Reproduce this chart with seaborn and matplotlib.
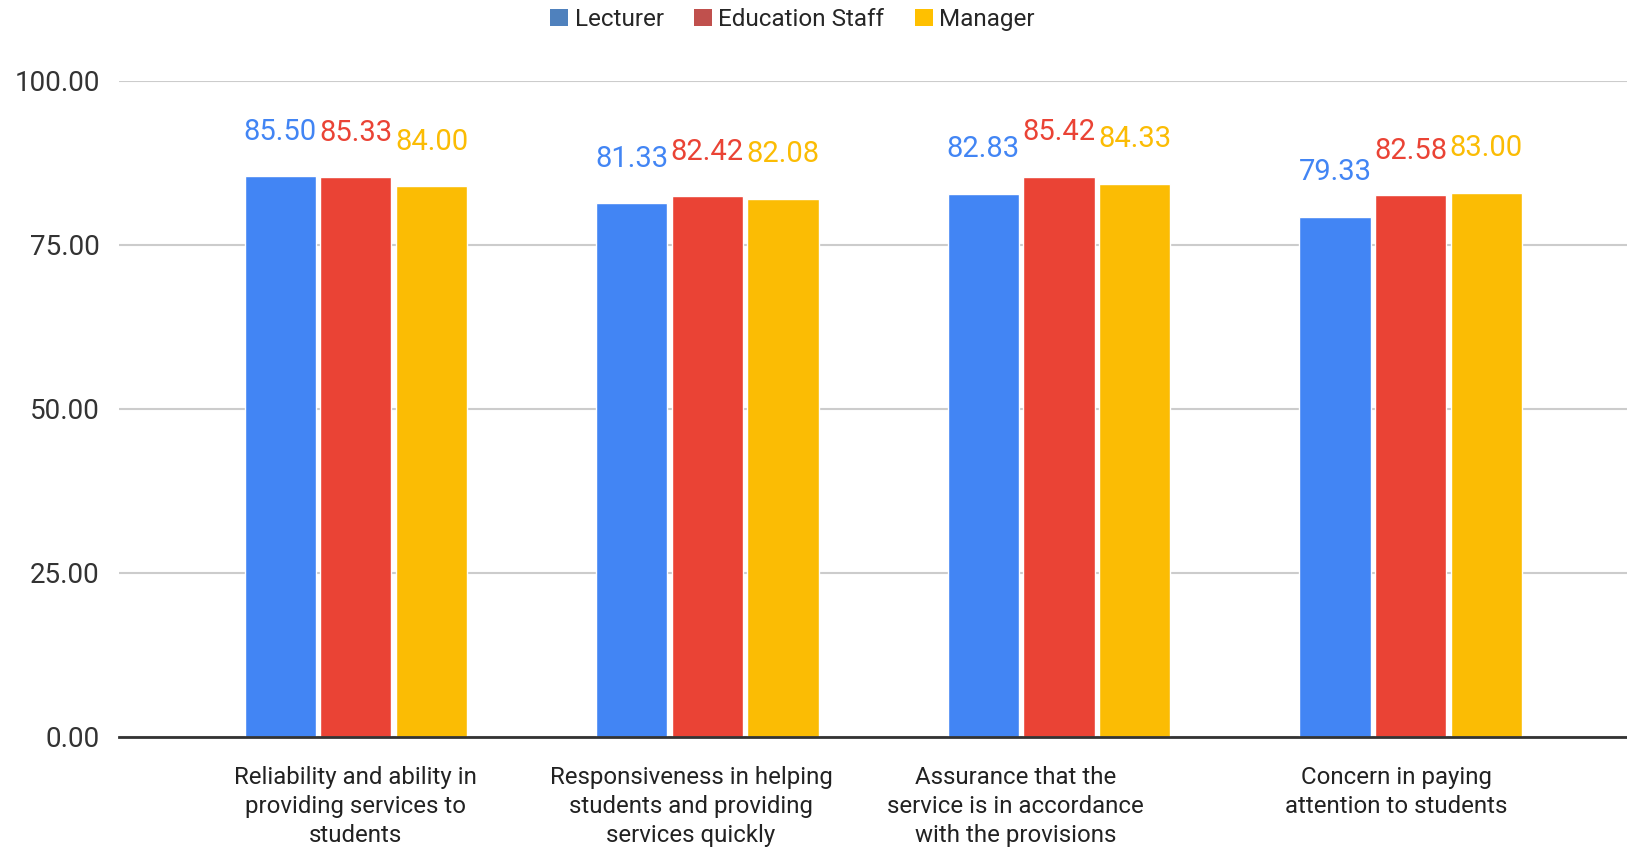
import pandas as pd
import matplotlib.pyplot as plt
import seaborn as sns
from matplotlib.patches import Patch

sns.set_theme(style="white")
plt.rcParams["font.family"] = ["Roboto", "DejaVu Sans"]

categories = [
    "Reliability and ability in\nproviding services to\nstudents",
    "Responsiveness in helping\nstudents and providing\nservices quickly",
    "Assurance that the\nservice is in accordance\nwith the provisions",
    "Concern in paying\nattention to students",
]
groups = ["Lecturer", "Education Staff", "Manager"]
lecturer = [85.50, 81.33, 82.83, 79.33]
education_staff = [85.33, 82.42, 85.42, 82.58]
manager = [84.00, 82.08, 84.33, 83.00]

bar_colors = ["#4285F4", "#EA4335", "#FBBC04"]
legend_colors = ["#4F81BD", "#C0504D", "#FFC000"]

df = pd.DataFrame({
    "category": categories * 3,
    "group": [g for g in groups for _ in categories],
    "score": lecturer + education_staff + manager,
})

fig = plt.figure(figsize=(16.27, 8.48), dpi=100)
ax = fig.add_axes([0.0733, 0.1309, 0.927, 0.7736])

sns.barplot(data=df, x="category", y="score", hue="group", hue_order=groups,
            palette=bar_colors, width=0.645, gap=0.06, ax=ax, legend=False,
            saturation=1, errorbar=None)

# value labels above each bar
for container, color in zip(ax.containers, bar_colors):
    for bar in container:
        h = bar.get_height()
        ax.annotate(f"{h:.2f}", (bar.get_x() + bar.get_width() / 2, h),
                    xytext=(0, 32), textcoords="offset points",
                    ha="center", va="center", fontsize=21, color=color)

ax.set_ylim(0, 100)
ax.set_xlim(-0.673, 3.617)
ax.set_yticks([0, 25, 50, 75, 100])
ax.set_yticklabels([f"{v:.2f}" for v in [0, 25, 50, 75, 100]], fontsize=20, color="#333333")
ax.set_xticks([0, 0.953, 1.876, 2.959])
ax.set_xticklabels(categories, fontsize=17.3, color="#222222", linespacing=1.32)
ax.tick_params(axis="both", length=0)
ax.tick_params(axis="x", pad=21)
ax.tick_params(axis="y", pad=14)
ax.set_xlabel("")
ax.set_ylabel("")

ax.yaxis.grid(True, color="#cccccc", linewidth=1.5)
ax.set_axisbelow(True)
for side in ["top", "right", "left"]:
    ax.spines[side].set_visible(False)
ax.spines["bottom"].set_color("#333333")
ax.spines["bottom"].set_linewidth(2)
ax.spines["bottom"].set_zorder(5)

handles = [Patch(facecolor=c, edgecolor="none") for c in legend_colors]
fig.legend(handles, groups, loc="center", bbox_to_anchor=(0.487, 0.977), ncol=3,
           frameon=False, fontsize=17.5, handlelength=0.75, handleheight=0.75,
           handletextpad=0.25, columnspacing=1.25)

fig.savefig("out.png", dpi=100)
